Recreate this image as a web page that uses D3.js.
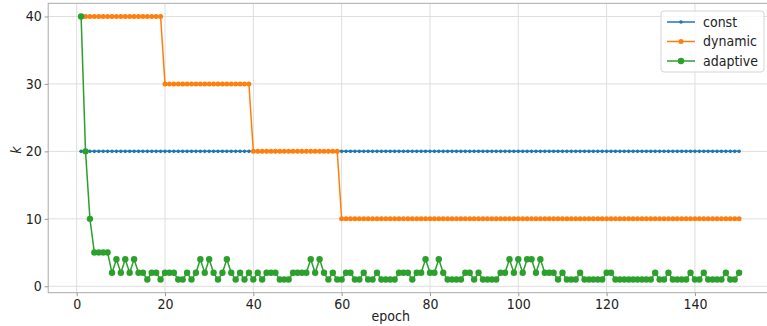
<!DOCTYPE html>
<meta charset="utf-8">
<style>
body { margin: 0; background: #fff; }
text { font-family: "DejaVu Sans Condensed", "DejaVu Sans", sans-serif; fill: #222; }
.grid line { stroke: #dedede; stroke-width: 1; }
.axis path, .axis line { stroke: #999; }
</style>
<svg width="767" height="326"></svg>
<script src="https://d3js.org/d3.v7.min.js"></script>
<script>

// epoch index 1..150
var epochs = d3.range(1, 151);

var constK = [
  20,20,20,20,20,20,20,20,20,20,20,20,20,20,20,20,20,20,20,20,20,20,20,20,20,20,20,20,20,20,
  20,20,20,20,20,20,20,20,20,20,20,20,20,20,20,20,20,20,20,20,20,20,20,20,20,20,20,20,20,20,
  20,20,20,20,20,20,20,20,20,20,20,20,20,20,20,20,20,20,20,20,20,20,20,20,20,20,20,20,20,20,
  20,20,20,20,20,20,20,20,20,20,20,20,20,20,20,20,20,20,20,20,20,20,20,20,20,20,20,20,20,20,
  20,20,20,20,20,20,20,20,20,20,20,20,20,20,20,20,20,20,20,20,20,20,20,20,20,20,20,20,20,20
];

var dynamicK = [
  40,40,40,40,40,40,40,40,40,40,40,40,40,40,40,40,40,40,40,30,30,30,30,30,30,30,30,30,30,30,
  30,30,30,30,30,30,30,30,30,20,20,20,20,20,20,20,20,20,20,20,20,20,20,20,20,20,20,20,20,10,
  10,10,10,10,10,10,10,10,10,10,10,10,10,10,10,10,10,10,10,10,10,10,10,10,10,10,10,10,10,10,
  10,10,10,10,10,10,10,10,10,10,10,10,10,10,10,10,10,10,10,10,10,10,10,10,10,10,10,10,10,10,
  10,10,10,10,10,10,10,10,10,10,10,10,10,10,10,10,10,10,10,10,10,10,10,10,10,10,10,10,10,10
];

var adaptiveK = [
  40,20,10,5,5,5,5,2,4,2, 4,2,4,2,2,1,2,2,1,2, 2,2,1,1,2,1,2,4,2,4,
  2,1,2,4,2,1,2,1,2,1, 2,1,2,2,2,1,1,1,2,2, 2,2,4,2,4,2,1,2,1,1,
  2,2,1,1,2,1,1,2,1,1, 1,1,2,2,2,1,2,2,4,2, 2,4,2,1,1,1,1,2,2,1,
  2,1,1,1,1,2,2,4,2,4, 2,4,4,2,4,2,2,2,1,2, 1,1,1,2,1,1,1,1,1,2,
  2,1,1,1,1,1,1,1,1,1, 2,1,1,2,1,1,1,1,2,1, 1,2,1,1,1,1,2,1,1,2
];

var xTicks = [0, 20, 40, 60, 80, 100, 120, 140];
var yTicks = [0, 10, 20, 30, 40];

var series = [
  {name: "const", values: constK, color: "#1f77b4", r: 1.8},
  {name: "dynamic", values: dynamicK, color: "#ff7f0e", r: 2.5},
  {name: "adaptive", values: adaptiveK, color: "#2ca02c", r: 3.2}
];

var svg = d3.select("svg");

// matplotlib style 5% margins -> plot box runs past the right edge of the image
var x = d3.scaleLinear().domain([-6.45, 157.45]).range([48.2, 772]);
var y = d3.scaleLinear().domain([-0.95, 41.95]).range([292.7, 3.3]);

var grid = svg.append("g").attr("class", "grid");
grid.selectAll(".gx").data(xTicks).enter().append("line")
    .attr("x1", function(d) { return x(d); })
    .attr("x2", function(d) { return x(d); })
    .attr("y1", y.range()[0]).attr("y2", y.range()[1]);
grid.selectAll(".gy").data(yTicks).enter().append("line")
    .attr("x1", x.range()[0]).attr("x2", x.range()[1])
    .attr("y1", function(d) { return y(d); })
    .attr("y2", function(d) { return y(d); });

// frame
svg.append("rect")
    .attr("x", x.range()[0]).attr("y", y.range()[1])
    .attr("width", x.range()[1] - x.range()[0])
    .attr("height", y.range()[0] - y.range()[1])
    .attr("fill", "none").attr("stroke", "#aaa").attr("stroke-width", 1);

var xAxis = svg.append("g")
    .attr("class", "axis")
    .attr("transform", "translate(0," + y.range()[0] + ")")
    .call(d3.axisBottom(x).tickValues(xTicks).tickSize(3.5).tickPadding(3).tickSizeOuter(0));
xAxis.select(".domain").remove();
xAxis.selectAll("text").style("font-size", "14px").attr("fill", "#222");

var yAxis = svg.append("g")
    .attr("class", "axis")
    .attr("transform", "translate(" + x.range()[0] + ",0)")
    .call(d3.axisLeft(y).tickValues(yTicks).tickSize(3.5).tickPadding(3).tickSizeOuter(0));
yAxis.select(".domain").remove();
yAxis.selectAll("text").style("font-size", "14px").attr("fill", "#222");

svg.append("text")
    .attr("x", x(0) + (x(140) - x(0)) / 2 + 5).attr("y", 321)
    .attr("text-anchor", "middle")
    .style("font-size", "14px")
    .text("epoch");

svg.append("text")
    .attr("transform", "translate(21,150) rotate(-90)")
    .attr("text-anchor", "middle")
    .style("font-size", "14px")
    .style("font-style", "italic")
    .text("k");

var line = d3.line()
    .x(function(d, i) { return x(epochs[i]); })
    .y(function(d) { return y(d); });

series.forEach(function(s) {
  var g = svg.append("g");
  g.append("path")
      .datum(s.values)
      .attr("fill", "none")
      .attr("stroke", s.color)
      .attr("stroke-width", 1.5)
      .attr("d", line);
  g.selectAll("circle")
      .data(s.values)
      .enter().append("circle")
      .attr("cx", function(d, i) { return x(epochs[i]); })
      .attr("cy", function(d) { return y(d); })
      .attr("r", s.r)
      .attr("fill", s.color);
});

// legend, upper right
var legend = svg.append("g").attr("transform", "translate(661,11)");
legend.append("rect")
    .attr("width", 103).attr("height", 61).attr("rx", 3)
    .attr("fill", "#fff").attr("fill-opacity", 0.8)
    .attr("stroke", "#d5d5d5");

var item = legend.selectAll(".item")
    .data(series)
    .enter().append("g")
    .attr("transform", function(d, i) { return "translate(6," + (11 + i * 19.5) + ")"; });
item.append("line")
    .attr("x1", 0).attr("x2", 28)
    .attr("stroke", function(d) { return d.color; })
    .attr("stroke-width", 1.5);
item.append("circle")
    .attr("cx", 14).attr("r", function(d) { return d.r; })
    .attr("fill", function(d) { return d.color; });
item.append("text")
    .attr("x", 36).attr("dy", "0.35em")
    .style("font-size", "14px")
    .text(function(d) { return d.name; });

</script>
